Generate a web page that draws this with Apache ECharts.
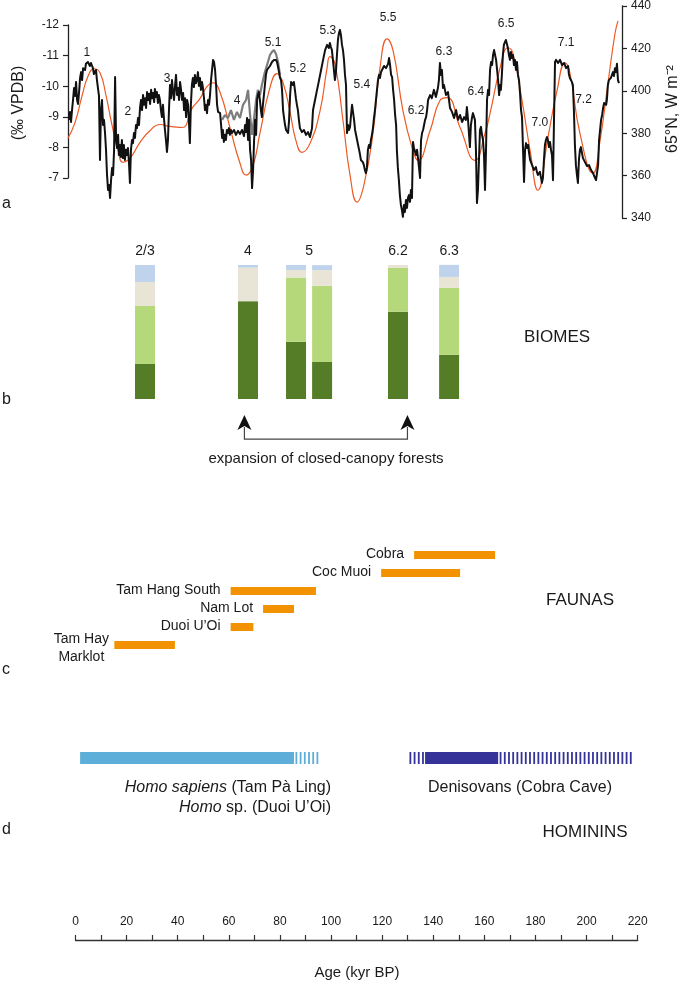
<!DOCTYPE html>
<html><head><meta charset="utf-8">
<script src="https://cdn.jsdelivr.net/npm/echarts/dist/echarts.min.js"></script>
<style>html,body{margin:0;padding:0;background:#fff}#c{width:685px;height:982px}</style>
</head><body><div id="c"></div>
<script>
// ---------- DATA ----------
// (a) speleothem d18O (per mil VPDB) vs age (kyr BP)
const speleoBlack = [[0.4,-8.90],[0.8,-9.16],[1.2,-8.83],[1.6,-9.22],[2.0,-9.55],[2.4,-9.94],[2.8,-9.68],[3.2,-10.14],[3.6,-9.55],[4.0,-9.42],[4.4,-9.81],[4.8,-10.27],[5.2,-10.46],[5.6,-10.20],[6.0,-10.59],[6.8,-10.53],[7.1,-10.73],[7.9,-10.79],[8.7,-10.66],[9.1,-10.76],[9.9,-10.59],[10.3,-10.40],[11.1,-10.53],[11.5,-10.20],[11.9,-9.94],[12.3,-9.68],[12.7,-7.59],[13.1,-9.22],[13.5,-9.55],[13.9,-8.73],[14.3,-8.90],[14.7,-8.47],[15.1,-7.92],[15.5,-7.10],[15.9,-6.61],[16.3,-6.77],[16.7,-6.35],[17.1,-6.93],[17.5,-7.33],[17.9,-7.10],[18.3,-7.92],[18.7,-10.30],[19.1,-8.24],[19.5,-7.98],[19.9,-8.41],[20.2,-7.75],[20.6,-8.08],[21.0,-7.69],[21.4,-8.24],[21.8,-7.65],[22.2,-8.08],[22.6,-7.59],[23.0,-7.92],[23.4,-7.75],[23.8,-7.98],[24.2,-7.52],[24.6,-6.84],[25.0,-7.92],[25.4,-8.24],[25.8,-8.14],[26.2,-8.47],[26.6,-8.31],[27.0,-8.73],[27.4,-8.63],[27.8,-8.96],[28.2,-8.73],[28.6,-9.29],[29.0,-9.55],[29.4,-9.22],[29.8,-9.71],[30.2,-9.39],[30.6,-9.61],[31.0,-9.29],[31.4,-9.81],[31.8,-9.55],[32.2,-9.75],[32.6,-9.42],[33.0,-9.88],[33.4,-9.61],[33.8,-9.78],[34.2,-9.48],[34.5,-9.91],[34.9,-9.65],[35.3,-9.81],[35.7,-9.45],[36.1,-9.71],[36.5,-9.55],[36.9,-9.22],[37.3,-8.99],[37.7,-9.39],[38.1,-8.96],[38.5,-8.57],[38.9,-8.24],[39.3,-7.85],[39.7,-8.24],[40.1,-9.22],[40.5,-10.04],[40.9,-9.61],[41.3,-10.20],[41.7,-9.81],[42.1,-9.55],[42.5,-10.01],[42.9,-10.37],[43.3,-9.71],[43.7,-9.94],[44.1,-9.55],[44.5,-10.14],[44.9,-9.88],[45.3,-9.55],[45.7,-9.78],[46.1,-9.22],[46.5,-9.61],[46.9,-8.99],[47.3,-9.55],[47.7,-9.39],[48.0,-8.90],[48.4,-8.14],[48.8,-9.39],[49.2,-10.04],[49.6,-10.27],[50.0,-9.97],[50.4,-10.37],[50.8,-10.10],[51.2,-10.20],[51.6,-10.46],[52.0,-10.01],[52.4,-10.27],[52.8,-9.88],[53.2,-10.14],[53.6,-9.94],[54.0,-9.61],[54.4,-9.22],[54.8,-9.39],[55.2,-9.12],[55.6,-9.55],[56.0,-9.39],[56.4,-9.71],[56.8,-10.20],[57.2,-10.53],[57.6,-10.86],[58.0,-10.79],[58.4,-10.53],[58.8,-10.04],[59.2,-9.39],[59.6,-9.16],[60.0,-9.22],[60.4,-9.12],[60.8,-8.73],[61.2,-8.31],[61.5,-8.57],[61.9,-8.18],[62.3,-8.41],[62.7,-8.24],[63.1,-8.57],[63.5,-8.47],[63.9,-8.63],[64.3,-8.41],[64.7,-8.57],[65.1,-8.47],[65.9,-8.57],[66.7,-8.41],[67.5,-8.54],[68.3,-8.44],[69.1,-8.57],[69.9,-8.37],[70.3,-8.73],[70.7,-8.50],[71.1,-8.96],[71.5,-8.24],[71.9,-8.90],[72.3,-7.92],[72.7,-7.59],[73.1,-6.67],[73.5,-7.26],[73.9,-8.24],[74.3,-8.90],[74.7,-8.41],[75.1,-9.55],[75.4,-9.71],[75.8,-9.81],[76.2,-9.55],[76.6,-9.22],[77.0,-8.99],[77.4,-9.39],[77.8,-9.71],[78.2,-10.04],[78.6,-10.37],[79.0,-10.53],[79.4,-10.59],[80.2,-10.66],[81.0,-10.79],[81.8,-10.86],[82.6,-10.86],[83.0,-10.79],[83.4,-10.63],[83.8,-10.46],[84.2,-10.27],[84.6,-10.20],[85.0,-9.88],[85.4,-9.22],[85.8,-8.96],[86.2,-8.73],[86.6,-8.57],[87.0,-8.63],[87.4,-8.47],[87.8,-8.90],[88.2,-9.71],[88.6,-10.14],[89.0,-10.20],[89.3,-10.04],[89.7,-10.14],[90.1,-9.88],[90.5,-9.61],[90.9,-9.39],[91.3,-9.22],[91.7,-8.90],[92.1,-8.63],[92.9,-8.50],[93.7,-8.57],[94.5,-8.41],[95.3,-8.50],[96.1,-8.34],[96.9,-8.63],[97.3,-9.22],[98.1,-9.55],[98.9,-9.88],[99.7,-10.20],[100.5,-10.53],[101.3,-10.86],[102.1,-11.18],[102.9,-11.35],[103.6,-11.25],[104.0,-11.41],[104.4,-11.28],[104.8,-11.18],[105.2,-10.86],[105.6,-10.53],[106.0,-10.20],[106.4,-10.46],[106.8,-11.02],[107.2,-11.51],[107.6,-11.74],[108.0,-11.84],[108.4,-11.67],[108.8,-11.35],[109.2,-11.18],[109.6,-10.86],[110.0,-10.37],[110.4,-10.04],[110.8,-8.47],[111.2,-8.73],[111.6,-8.57],[112.0,-8.67],[112.4,-9.06],[112.8,-9.39],[113.2,-9.45],[113.6,-8.90],[114.0,-8.57],[114.4,-8.63],[114.8,-8.24],[115.2,-8.08],[115.6,-7.92],[116.0,-7.75],[116.3,-7.59],[116.7,-7.65],[117.1,-7.52],[117.5,-7.42],[117.9,-7.26],[118.3,-7.16],[118.7,-7.33],[119.1,-7.92],[119.5,-8.08],[119.9,-7.98],[120.3,-8.24],[120.7,-8.41],[121.1,-8.63],[121.5,-8.96],[121.9,-9.22],[122.3,-9.55],[122.7,-9.88],[123.1,-10.20],[123.5,-10.37],[123.9,-10.27],[124.3,-10.46],[124.7,-10.53],[125.5,-10.66],[126.3,-10.59],[127.1,-10.73],[127.5,-10.92],[127.9,-10.69],[128.3,-10.37],[128.7,-10.30],[129.1,-9.88],[129.5,-9.55],[129.9,-9.06],[130.3,-8.73],[130.6,-7.92],[131.0,-7.33],[131.4,-6.93],[131.8,-6.44],[132.2,-6.12],[132.6,-5.95],[133.0,-5.73],[133.4,-6.12],[133.8,-5.89],[134.2,-6.28],[134.6,-6.02],[135.0,-6.35],[135.4,-6.44],[135.8,-6.22],[136.2,-6.61],[136.6,-6.35],[137.0,-8.18],[137.4,-7.98],[137.8,-7.92],[138.2,-7.75],[138.6,-7.92],[139.0,-7.65],[139.4,-7.59],[139.8,-7.00],[140.2,-8.24],[140.6,-8.47],[141.0,-8.57],[141.4,-8.73],[141.8,-8.90],[142.2,-8.99],[142.6,-9.22],[143.0,-9.55],[143.8,-9.71],[144.5,-9.61],[145.3,-9.88],[146.1,-9.65],[146.9,-9.94],[147.3,-10.20],[147.7,-10.76],[148.1,-10.37],[148.5,-10.53],[148.9,-9.94],[149.3,-10.04],[150.1,-9.71],[150.9,-9.81],[151.7,-9.29],[152.5,-9.16],[153.3,-8.96],[154.1,-9.22],[154.9,-8.90],[155.7,-9.06],[156.5,-8.83],[157.3,-8.99],[158.0,-8.90],[158.4,-9.32],[158.8,-8.96],[159.6,-8.01],[160.0,-8.73],[160.4,-8.96],[160.8,-9.12],[161.6,-8.90],[162.0,-7.92],[162.4,-6.18],[162.8,-6.61],[163.2,-7.59],[163.6,-8.57],[164.0,-8.67],[164.4,-8.41],[164.8,-8.24],[165.2,-7.75],[165.6,-6.61],[166.0,-7.92],[166.4,-9.55],[166.8,-9.88],[167.2,-9.71],[167.6,-10.53],[168.0,-10.79],[168.4,-10.69],[168.8,-11.02],[169.2,-11.18],[169.6,-11.02],[170.0,-10.86],[170.4,-10.53],[170.8,-10.20],[171.2,-9.71],[171.6,-10.04],[171.9,-9.88],[172.3,-10.37],[172.7,-11.02],[173.1,-11.35],[173.5,-11.44],[173.9,-11.51],[174.3,-11.54],[174.7,-11.25],[175.1,-11.02],[175.5,-10.86],[175.9,-11.12],[176.3,-10.92],[176.7,-11.02],[177.1,-10.69],[177.5,-10.86],[177.9,-10.53],[178.3,-10.79],[178.7,-10.37],[179.1,-10.20],[179.5,-9.78],[179.9,-9.22],[180.3,-8.99],[180.7,-7.92],[181.1,-6.87],[181.5,-7.92],[181.9,-8.14],[182.3,-7.98],[182.7,-8.08],[183.1,-7.82],[183.5,-7.59],[184.3,-7.42],[185.0,-7.26],[185.8,-7.36],[186.2,-7.20],[186.6,-7.10],[187.4,-7.20],[187.8,-7.03],[188.2,-6.84],[188.6,-7.00],[189.0,-7.59],[189.4,-8.08],[189.8,-8.24],[190.2,-8.34],[190.6,-8.24],[191.0,-8.01],[191.4,-8.18],[191.8,-7.92],[192.2,-7.75],[192.6,-6.93],[193.0,-8.90],[193.4,-10.79],[193.8,-10.86],[194.6,-10.76],[195.4,-10.86],[196.2,-10.69],[197.0,-10.76],[197.8,-10.59],[198.6,-10.66],[198.9,-10.40],[199.3,-10.27],[200.1,-10.14],[200.5,-10.04],[200.9,-9.22],[201.3,-8.08],[201.7,-7.42],[202.1,-7.10],[202.5,-6.84],[202.9,-7.59],[203.3,-7.92],[203.7,-8.01],[204.1,-7.82],[204.5,-7.65],[205.3,-7.52],[206.1,-7.39],[206.9,-7.42],[207.7,-7.26],[208.5,-7.16],[209.3,-7.00],[209.7,-6.93],[210.1,-6.87],[210.5,-7.42],[210.9,-8.24],[211.3,-8.57],[211.7,-8.90],[212.1,-9.06],[212.5,-9.29],[212.9,-9.45],[213.7,-9.39],[214.0,-9.55],[214.4,-10.04],[214.8,-10.20],[215.2,-10.14],[215.6,-10.27],[216.4,-10.46],[216.8,-10.33],[217.2,-10.59],[217.6,-10.46],[218.0,-10.73],[218.4,-10.20],[218.8,-10.10]];
const speleoGray = [[61.2,-8.90],[62.3,-9.06],[63.5,-8.96],[64.7,-9.22],[65.9,-8.90],[67.1,-9.16],[68.3,-8.96],[69.5,-9.39],[70.7,-9.55],[71.5,-9.88],[72.3,-9.06],[73.1,-8.41],[73.9,-8.96],[74.7,-9.55],[75.4,-9.88],[76.2,-9.71],[77.0,-10.04],[78.2,-10.46],[79.4,-10.79],[80.2,-11.02],[81.0,-11.12],[81.8,-11.18],[82.6,-11.05],[83.4,-10.79],[84.2,-10.37]];
// (a) 65N insolation (W m-2)
const insolation65N = [[0,377.6],[2.8,385.1],[5.6,397.7],[7.9,406.7],[10.3,410.4],[12.7,408.5],[15.1,397.7],[17.5,383.7],[19.9,371.9],[21.8,366.3],[24.6,368.2],[28.6,375.7],[32.6,381.3],[36.5,384.1],[40.5,383.2],[45.3,382.7],[49.2,391.6],[52.4,396.3],[55.2,402.0],[57.6,403.8],[60.4,399.2],[64.3,382.7],[68.3,365.8],[70.7,360.2],[73.5,364.9],[76.2,379.9],[80.2,401.5],[83.0,408.1],[85.4,403.8],[88.2,389.8],[90.5,376.6],[92.9,371.0],[96.1,375.2],[100.1,390.7],[102.9,410.9],[104.0,416.1],[106.0,412.8],[109.2,386.0],[112.0,360.2],[114.8,347.5],[117.5,355.5],[121.1,379.9],[123.9,410.9],[126.7,424.5],[129.1,418.9],[133.0,390.7],[136.6,373.3],[139.0,367.2],[143.8,381.3],[147.7,395.4],[150.5,396.8],[155.7,382.7],[161.6,367.2],[165.6,379.9],[167.6,389.3],[171.6,410.9],[174.7,420.3],[176.7,417.5],[180.3,395.4],[183.5,371.9],[186.6,353.1],[190.6,378.0],[194.2,400.1],[197.4,413.2],[199.3,408.5],[203.3,379.9],[208.5,361.1],[211.3,376.6],[214.4,403.4],[217.2,426.9],[218.4,433.0]];
const misLabels = ['1','2','3','4','5.1','5.2','5.3','5.4','5.5','6.2','6.3','6.4','6.5','7.0','7.1','7.2'];
const misAge    = [7.5,23.8,39.3,67.1,81.4,91.3,103.2,116.7,127.1,138.2,149.3,162.0,174.0,187.4,197.8,204.7];
const misInsol  = [417.9,390.2,405.7,395.4,422.6,410.4,428.3,402.9,434.4,390.7,418.4,399.6,431.5,385.1,422.6,395.9];
const d18OTicks = [-12,-11,-10,-9,-8,-7];
const insolTicks = [340,360,380,400,420,440];

// (b) biomes (% of assemblage)
const biomeAge      = [27.2, 67.5, 86.3, 96.5, 126.2, 146.2];
const closedForest  = [26.1, 73.0, 42.8, 27.6, 65.2, 33.1];
const openForest    = [43.3, 0.0, 47.9, 56.9, 32.6, 49.8];
const grassland     = [17.9, 25.0, 5.6, 11.7, 2.2, 8.2];
const otherBiome    = [12.7, 2.0, 3.7, 3.7, 0.0, 9.0];
const biomeStageText = ['2/3','4','5','6.2','6.3'];
const biomeStageAge  = [27.2, 67.5, 91.4, 126.2, 146.2];
const forestExpansionAges = [66.1, 129.9];

// (c) faunas (kyr BP)
const faunaSites = ['Cobra','Coc Muoi','Tam Hang South','Nam Lot','Duoi U\u2019Oi','Tam Hay\nMarklot'];
const faunaStart = [132.5, 119.6, 60.7, 73.4, 60.7, 15.2];
const faunaEnd   = [164.2, 150.5, 94.1, 85.5, 69.6, 38.9];

// (d) hominins (kyr BP)
const homininSolid   = [[1.8, 85.5, 0], [136.8, 165.4, 1]];
const homininHatched = [[85.5, 96.1, 0], [130.1, 136.8, 1], [165.4, 217.8, 1]];
const ageTicks = [0,20,40,60,80,100,120,140,160,180,200,220];

// ---------- CHART ----------
const FONT = 'Liberation Sans, Arial, Helvetica, sans-serif';
const TXT = '#1a1a1a';
const homColors = ['#5DAED9', '#35339A'];
const biomeColors = ['#557D27', '#B5D97A', '#E8E5D6', '#C0D3EC'];
const chart = echarts.init(document.getElementById('c'));

function txt(x, y, text, size, align, extra) {
  return Object.assign({
    type: 'text', x: x, y: y, z: 10,
    style: { text: text, fill: TXT, fontSize: size, fontFamily: FONT,
      align: align || 'center', textAlign: align || 'center',
      verticalAlign: 'middle', textVerticalAlign: 'middle' }
  }, extra || {});
}
function textEl(p, text, size) {
  return { type: 'text', x: p[0], y: p[1],
    style: { text: text, fill: TXT, fontSize: size, fontFamily: FONT,
      align: 'center', textAlign: 'center', verticalAlign: 'middle', textVerticalAlign: 'middle' } };
}

// stacked biome segments built from the arrays: [age, bottom, top, colorIndex]
const biomeLayers = [closedForest, openForest, grassland, otherBiome];
const biomeSegments = [];
biomeAge.forEach((a, i) => {
  let base = 0;
  biomeLayers.forEach((layer, k) => {
    if (layer[i] > 0) biomeSegments.push([a, base, base + layer[i], k]);
    base += layer[i];
  });
});

const hiddenX = (g, min, max) => ({ type: 'value', gridIndex: g, min: min, max: max, show: false });
const hiddenY = (g, min, max) => ({ type: 'value', gridIndex: g, min: min, max: max, show: false });

const option = {
  animation: false,
  backgroundColor: '#fff',
  grid: [
    { left: 68, width: 554, top: 25, height: 153 },   // 0 d18O
    { left: 68, width: 554, top: 5, height: 213 },    // 1 insolation
    { left: 75.5, width: 562.2, top: 265, height: 134 }, // 2 biomes
    { left: 75.5, width: 562.2, top: 546, height: 108 }, // 3 faunas
    { left: 75.5, width: 562.2, top: 752, height: 12 },  // 4 hominins
    { left: 75.5, width: 562.2, top: 940, height: 10 }   // 5 age axis
  ],
  xAxis: [
    hiddenX(0, 0, 220), hiddenX(1, 0, 220), hiddenX(2, 0, 220), hiddenX(3, 0, 220), hiddenX(4, 0, 220),
    { type: 'value', gridIndex: 5, position: 'top', min: 0, max: 220, interval: 10,
      axisLine: { show: true, onZero: false, lineStyle: { color: '#333', width: 1.3 } },
      axisTick: { show: true, inside: false, length: 5, lineStyle: { color: '#333', width: 1.2 } },
      axisLabel: { margin: 12, fontSize: 12, fontFamily: FONT, color: TXT,
        formatter: v => ageTicks.indexOf(v) >= 0 ? String(v) : '' },
      splitLine: { show: false } }
  ],
  yAxis: [
    { type: 'value', gridIndex: 0, inverse: true, min: d18OTicks[0], max: d18OTicks[d18OTicks.length - 1], interval: 1,
      axisLine: { show: true, onZero: false, lineStyle: { color: '#222', width: 1.3 } },
      axisTick: { show: true, length: 5, lineStyle: { color: '#222', width: 1.2 } },
      axisLabel: { margin: 9, fontSize: 12, fontFamily: FONT, color: TXT },
      splitLine: { show: false } },
    { type: 'value', gridIndex: 1, position: 'right', min: insolTicks[0], max: insolTicks[insolTicks.length - 1], interval: 20,
      axisLine: { show: true, onZero: false, lineStyle: { color: '#222', width: 1.3 } },
      axisTick: { show: true, length: 5, lineStyle: { color: '#222', width: 1.2 } },
      axisLabel: { margin: 9, fontSize: 12, fontFamily: FONT, color: TXT },
      splitLine: { show: false } },
    hiddenY(2, 0, 100),
    { type: 'category', gridIndex: 3, data: faunaSites, inverse: true, show: false },
    hiddenY(4, 0, 1),
    hiddenY(5, 0, 1)
  ],
  series: [
    { type: 'line', xAxisIndex: 1, yAxisIndex: 1, data: insolation65N, smooth: 0.5, showSymbol: false, clip: false,
      lineStyle: { color: '#EE5A24', width: 1.2 }, z: 2 },
    { type: 'line', xAxisIndex: 0, yAxisIndex: 0, data: speleoGray, showSymbol: false, clip: false,
      lineStyle: { color: '#7d7d7d', width: 2.2 }, z: 3 },
    { type: 'line', xAxisIndex: 0, yAxisIndex: 0, data: speleoBlack, showSymbol: false, clip: false,
      lineStyle: { color: '#111', width: 2.0, join: 'round' }, z: 4 },
    { type: 'custom', xAxisIndex: 1, yAxisIndex: 1, clip: false, z: 6,
      data: misAge.map((a, i) => [a, misInsol[i]]),
      renderItem: (params, api) => textEl(api.coord([api.value(0), api.value(1)]), misLabels[params.dataIndex], 12) },
    // biomes (stacked percentages)
    { type: 'custom', xAxisIndex: 2, yAxisIndex: 2, clip: false, data: biomeSegments,
      renderItem: (params, api) => {
        const lo = api.coord([api.value(0), api.value(1)]);
        const hi = api.coord([api.value(0), api.value(2)]);
        return { type: 'rect', shape: { x: lo[0] - 10, y: hi[1], width: 20, height: lo[1] - hi[1] },
          style: { fill: biomeColors[api.value(3)] } };
      } },
    { type: 'custom', xAxisIndex: 2, yAxisIndex: 2, clip: false,
      data: biomeStageAge.map(a => [a, 110.5]),
      renderItem: (params, api) => textEl(api.coord([api.value(0), api.value(1)]), biomeStageText[params.dataIndex], 14) },
    { type: 'custom', xAxisIndex: 2, yAxisIndex: 2, clip: false, data: [forestExpansionAges],
      renderItem: (params, api) => {
        const a = api.coord([api.value(0), -12]);
        const b = api.coord([api.value(0), -30]);
        const c = api.coord([api.value(1), -30]);
        const d = api.coord([api.value(1), -12]);
        const head = (p) => ({ type: 'polygon', shape: { points: [[p[0], p[1]], [p[0] - 7, p[1] + 15], [p[0], p[1] + 11], [p[0] + 7, p[1] + 15]] },
          style: { fill: '#111' } });
        return { type: 'group', children: [
          { type: 'polyline', shape: { points: [[a[0], a[1] + 12], b, c, [d[0], d[1] + 12]] }, style: { stroke: '#444', lineWidth: 1.2, fill: null } },
          head(a), head(d)
        ] };
      } },
    // faunas
    { type: 'custom', xAxisIndex: 3, yAxisIndex: 3, clip: false,
      data: faunaSites.map((n, i) => [faunaStart[i], faunaEnd[i], i]),
      renderItem: (params, api) => {
        const s = api.coord([api.value(0), api.value(2)]);
        const e = api.coord([api.value(1), api.value(2)]);
        const name = faunaSites[params.dataIndex];
        const two = name.indexOf('\n') >= 0;
        return { type: 'group', children: [
          { type: 'rect', shape: { x: s[0], y: s[1] - 4, width: e[0] - s[0], height: 8 }, style: { fill: '#F39200' } },
          { type: 'text', x: two ? s[0] - 33 : s[0] - 10, y: two ? s[1] + 3 : s[1] - 1,
            style: { text: name, fill: TXT, fontSize: 14, fontFamily: FONT, lineHeight: 18,
              align: two ? 'center' : 'right', textAlign: two ? 'center' : 'right',
              verticalAlign: 'middle', textVerticalAlign: 'middle' } }
        ] };
      } },
    // hominins solid
    { type: 'custom', xAxisIndex: 4, yAxisIndex: 4, clip: false, data: homininSolid,
      renderItem: (params, api) => {
        const s = api.coord([api.value(0), 0.5]);
        const e = api.coord([api.value(1), 0.5]);
        return { type: 'rect', shape: { x: s[0], y: s[1] - 6, width: e[0] - s[0], height: 12 },
          style: { fill: homColors[api.value(2)] } };
      } },
    // hominins hatched
    { type: 'custom', xAxisIndex: 4, yAxisIndex: 4, clip: false, data: homininHatched,
      renderItem: (params, api) => {
        const s = api.coord([api.value(0), 0.5]);
        const e = api.coord([api.value(1), 0.5]);
        const col = homColors[api.value(2)];
        const kids = [];
        for (let x = s[0] + 1.5; x < e[0] - 0.5; x += 4.2) {
          kids.push({ type: 'rect', shape: { x: x, y: s[1] - 6, width: 1.8, height: 12 }, style: { fill: col } });
        }
        return { type: 'group', children: kids };
      } }
  ],
  graphic: [
    txt(19, 103, '(\u2030 VPDB)', 16, 'center', { rotation: Math.PI / 2 }),
    txt(673, 109, '65\u00b0N, W m\u207b\u00b2', 16, 'center', { rotation: Math.PI / 2 }),
    txt(2, 204, 'a', 16, 'left'),
    txt(2, 400, 'b', 16, 'left'),
    txt(2, 670, 'c', 16, 'left'),
    txt(2, 830, 'd', 16, 'left'),
    txt(557, 337, 'BIOMES', 17),
    txt(326, 459, 'expansion of closed-canopy forests', 15),
    txt(580, 600, 'FAUNAS', 17),
    txt(585, 832, 'HOMININS', 17),
    txt(357, 973, 'Age (kyr BP)', 15),
    { type: 'text', x: 331, y: 788, z: 10, style: { text: '{i|Homo sapiens} (Tam P\u00e0 Ling)', fill: TXT, fontSize: 16, fontFamily: FONT,
        align: 'right', textAlign: 'right', verticalAlign: 'middle', textVerticalAlign: 'middle',
        rich: { i: { fontStyle: 'italic', fontSize: 16, fontFamily: FONT, fill: TXT } } } },
    { type: 'text', x: 331, y: 808, z: 10, style: { text: '{i|Homo} sp. (Duoi U\u2019Oi)', fill: TXT, fontSize: 16, fontFamily: FONT,
        align: 'right', textAlign: 'right', verticalAlign: 'middle', textVerticalAlign: 'middle',
        rich: { i: { fontStyle: 'italic', fontSize: 16, fontFamily: FONT, fill: TXT } } } },
    txt(520, 788, 'Denisovans (Cobra Cave)', 16)
  ]
};
chart.setOption(option);
</script></body></html>
